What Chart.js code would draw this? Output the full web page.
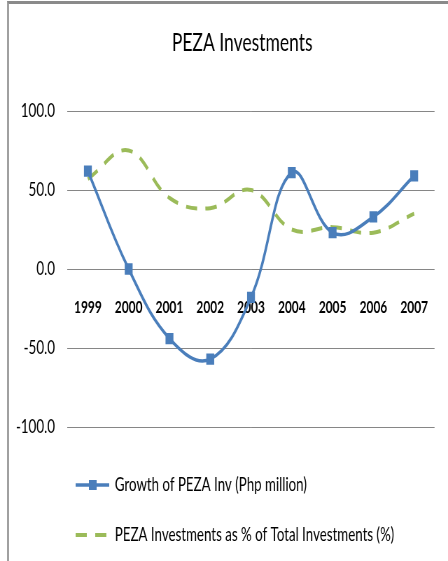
<!DOCTYPE html>
<html>
<head>
<meta charset="utf-8">
<script src="https://cdn.jsdelivr.net/npm/chart.js@4.4.0/dist/chart.umd.min.js"></script>
<style>
  html, body { margin: 0; padding: 0; background: #fff; overflow: hidden; }
  #frame { position: absolute; left: 0; top: 0; width: 448px; height: 561px; overflow: hidden; }
  #frame::after { content: ''; position: absolute; left: 7px; top: 1px; right: 0; bottom: 0;
    border-top: 3px solid #8a8a8a; border-left: 2px solid #a0a0a0; pointer-events: none; }
  /* the original picture is squeezed sideways, so the chart is drawn wide and narrowed */
  canvas { position: absolute; left: 0; top: 0; transform: scaleX(0.7); transform-origin: 0 0; }
</style>
</head>
<body>
<div id="frame"><canvas id="chart" width="640" height="561" style="width:640px;height:561px"></canvas></div>
<script>
const years = ['1999', '2000', '2001', '2002', '2003', '2004', '2005', '2006', '2007'];
const growthPeza = [62, 0, -44, -57, -18, 61, 23, 33, 59];
const pezaShare = [57, 75, 45, 38.5, 50, 25, 26.5, 23, 35];
const yTicks = [100, 50, 0, -50, -100];
const chartTitle = 'PEZA Investments';

const FONT = "Lato, 'Liberation Sans', sans-serif";
const BLUE = '#4a7ebb';
const GREEN = '#9bbb59';

// title sits a bit right of centre in the original, so it is drawn here
const titlePlugin = {
  id: 'offsetTitle',
  afterDraw(chart) {
    const ctx = chart.ctx;
    ctx.save();
    ctx.fillStyle = '#000';
    ctx.font = '25px ' + FONT;
    ctx.textAlign = 'center';
    ctx.textBaseline = 'middle';
    ctx.fillText(chartTitle, 346, 43);
    ctx.restore();
  }
};

// legend drawn by hand: stacked rows, left aligned like the original
const legendPlugin = {
  id: 'stackedLegend',
  afterDraw(chart) {
    const ctx = chart.ctx;
    const rows = [485, 535];
    ctx.save();
    chart.data.datasets.forEach((ds, i) => {
      const y = rows[i];
      ctx.strokeStyle = ds.borderColor;
      ctx.lineWidth = ds.borderWidth;
      ctx.setLineDash(ds.borderDash || []);
      ctx.beginPath();
      ctx.moveTo(108, y);
      ctx.lineTo(156, y);
      ctx.stroke();
      ctx.setLineDash([]);
      if (ds.pointRadius > 0) {
        ctx.fillStyle = ds.pointBackgroundColor;
        ctx.fillRect(127, y - 5, 11, 10);
      }
      ctx.fillStyle = '#000';
      ctx.font = '19px ' + FONT;
      ctx.textBaseline = 'middle';
      ctx.fillText(ds.label, 164, y);
    });
    ctx.restore();
  }
};

new Chart(document.getElementById('chart'), {
  type: 'line',
  data: {
    labels: years,
    datasets: [
      {
        label: 'Growth of PEZA Inv (Php million)',
        data: growthPeza,
        borderColor: BLUE,
        borderWidth: 3.5,
        tension: 0.4,
        pointStyle: 'rect',
        pointRadius: 5.5,
        pointBackgroundColor: BLUE,
        pointBorderColor: BLUE,
        fill: false
      },
      {
        label: 'PEZA Investments as % of Total Investments (%)',
        data: pezaShare,
        borderColor: GREEN,
        borderWidth: 4,
        borderDash: [16, 12],
        tension: 0.4,
        pointRadius: 0,
        fill: false
      }
    ]
  },
  options: {
    responsive: false,
    animation: false,
    layout: { padding: { left: 0, right: 11.4, top: 111, bottom: 134 } },
    plugins: {
      legend: { display: false },
      tooltip: { enabled: false },
      title: { display: false }
    },
    scales: {
      x: {
        position: { y: 0 },
        offset: true,
        grid: { display: false, drawTicks: false },
        border: { display: false },
        ticks: {
          color: '#000',
          padding: 28,
          maxRotation: 0,
          autoSkip: false,
          font: { family: FONT, size: 17, weight: 'bold' }
        }
      },
      y: {
        min: -100,
        max: 100,
        afterFit(scale) { scale.width = 96.4; },
        afterBuildTicks(scale) { scale.ticks = yTicks.map(v => ({ value: v })); },
        grid: { color: '#868686', lineWidth: 1, drawTicks: false },
        border: { display: false },
        ticks: {
          color: '#000',
          padding: 18,
          font: { family: FONT, size: 19 },
          callback: v => v.toFixed(1)
        }
      }
    }
  },
  plugins: [titlePlugin, legendPlugin]
});
</script>
</body>
</html>
